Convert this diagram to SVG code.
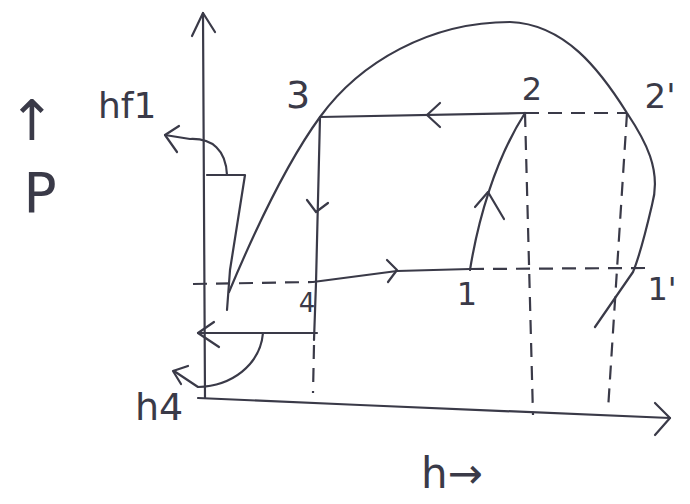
<svg xmlns="http://www.w3.org/2000/svg" width="690" height="504" viewBox="0 0 690 504">
<style>
.ln{fill:none;stroke:#3a3a48;stroke-width:2.2;stroke-linecap:round;stroke-linejoin:round}
.ds{fill:none;stroke:#3a3a48;stroke-width:2.2;stroke-dasharray:14 9}
.t{font-family:"DejaVu Sans","Liberation Sans",sans-serif;fill:#3a3a48}
</style>
<rect width="690" height="504" fill="#ffffff"/>
<g id="axes">
<path class="ln" d="M205,398 L203,13"/>
<path class="ln" d="M192,36 L203,13 L215,32"/>
<path class="ln" d="M198,398 L360,405 L670,418"/>
<path class="ln" d="M655,403 L670,418 L655,435"/>
</g>
<g id="connectors">
<path class="ln" d="M229,292 C 255,230 285,165 320,117 C 360,62 430,22 510,22 C 565,24 600,70 627,113 C 645,140 662,170 652,205 C 645,235 640,255 633,272 L595,327"/>
<path class="ln" d="M207,175 L245,175 L230,270 L227,310"/>
<path class="ln" d="M227,175 C 226,150 212,138 190,139 L165,135"/>
<path class="ln" d="M179,126 L165,135 L177,152"/>
<path class="ln" d="M198,333 L317,333"/>
<path class="ln" d="M214,322 L198,333 L219,347"/>
<path class="ln" d="M263,333 C 260,365 232,386 198,387 L174,371"/>
<path class="ln" d="M188,366 L173,371 L181,384"/>
<path class="ln" d="M320,117 L525,113"/>
<path class="ln" d="M440,103 L427,115 L440,127"/>
<path class="ds" d="M525,113 L627,113"/>
<path class="ln" d="M320,117 L316,283 L314,340"/>
<path class="ln" d="M307,200 L316,212 L328,203"/>
<path class="ds" d="M314,345 L313,393"/>
<path class="ds" d="M193,284 L313,282"/>
<path class="ln" d="M313,282 L397,271 L470,269"/>
<path class="ln" d="M387,260 L397,270 L388,282"/>
<path class="ds" d="M470,269 L645,268"/>
<path class="ln" d="M470,270 C 478,220 495,160 525,113"/>
<path class="ln" d="M475,207 L488,192 L504,219"/>
<path class="ds" d="M525,113 L533,415"/>
<path class="ds" d="M627,113 L608,410"/>
</g>
<g id="node-3"><text class="t" x="298" y="108" font-size="38" text-anchor="middle">3</text></g>
<g id="node-2"><text class="t" x="532" y="100" font-size="32" text-anchor="middle">2</text></g>
<g id="node-2p"><text class="t" x="660" y="108" font-size="34" text-anchor="middle">2'</text></g>
<g id="node-1"><text class="t" x="467" y="305" font-size="32" text-anchor="middle">1</text></g>
<g id="node-1p"><text class="t" x="662" y="300" font-size="32" text-anchor="middle">1'</text></g>
<g id="node-4"><text class="t" x="307" y="312" font-size="26" text-anchor="middle">4</text></g>
<g id="label-hf1"><text class="t" x="98" y="118" font-size="36">hf1</text></g>
<g id="label-h4"><text class="t" x="135" y="420" font-size="38">h4</text></g>
<g id="label-p"><text class="t" x="32" y="140" font-size="56" text-anchor="middle">↑</text><text class="t" x="40" y="212" font-size="55" text-anchor="middle">P</text></g>
<g id="label-h"><text class="t" x="452" y="488" font-size="42" text-anchor="middle">h→</text></g>
</svg>
